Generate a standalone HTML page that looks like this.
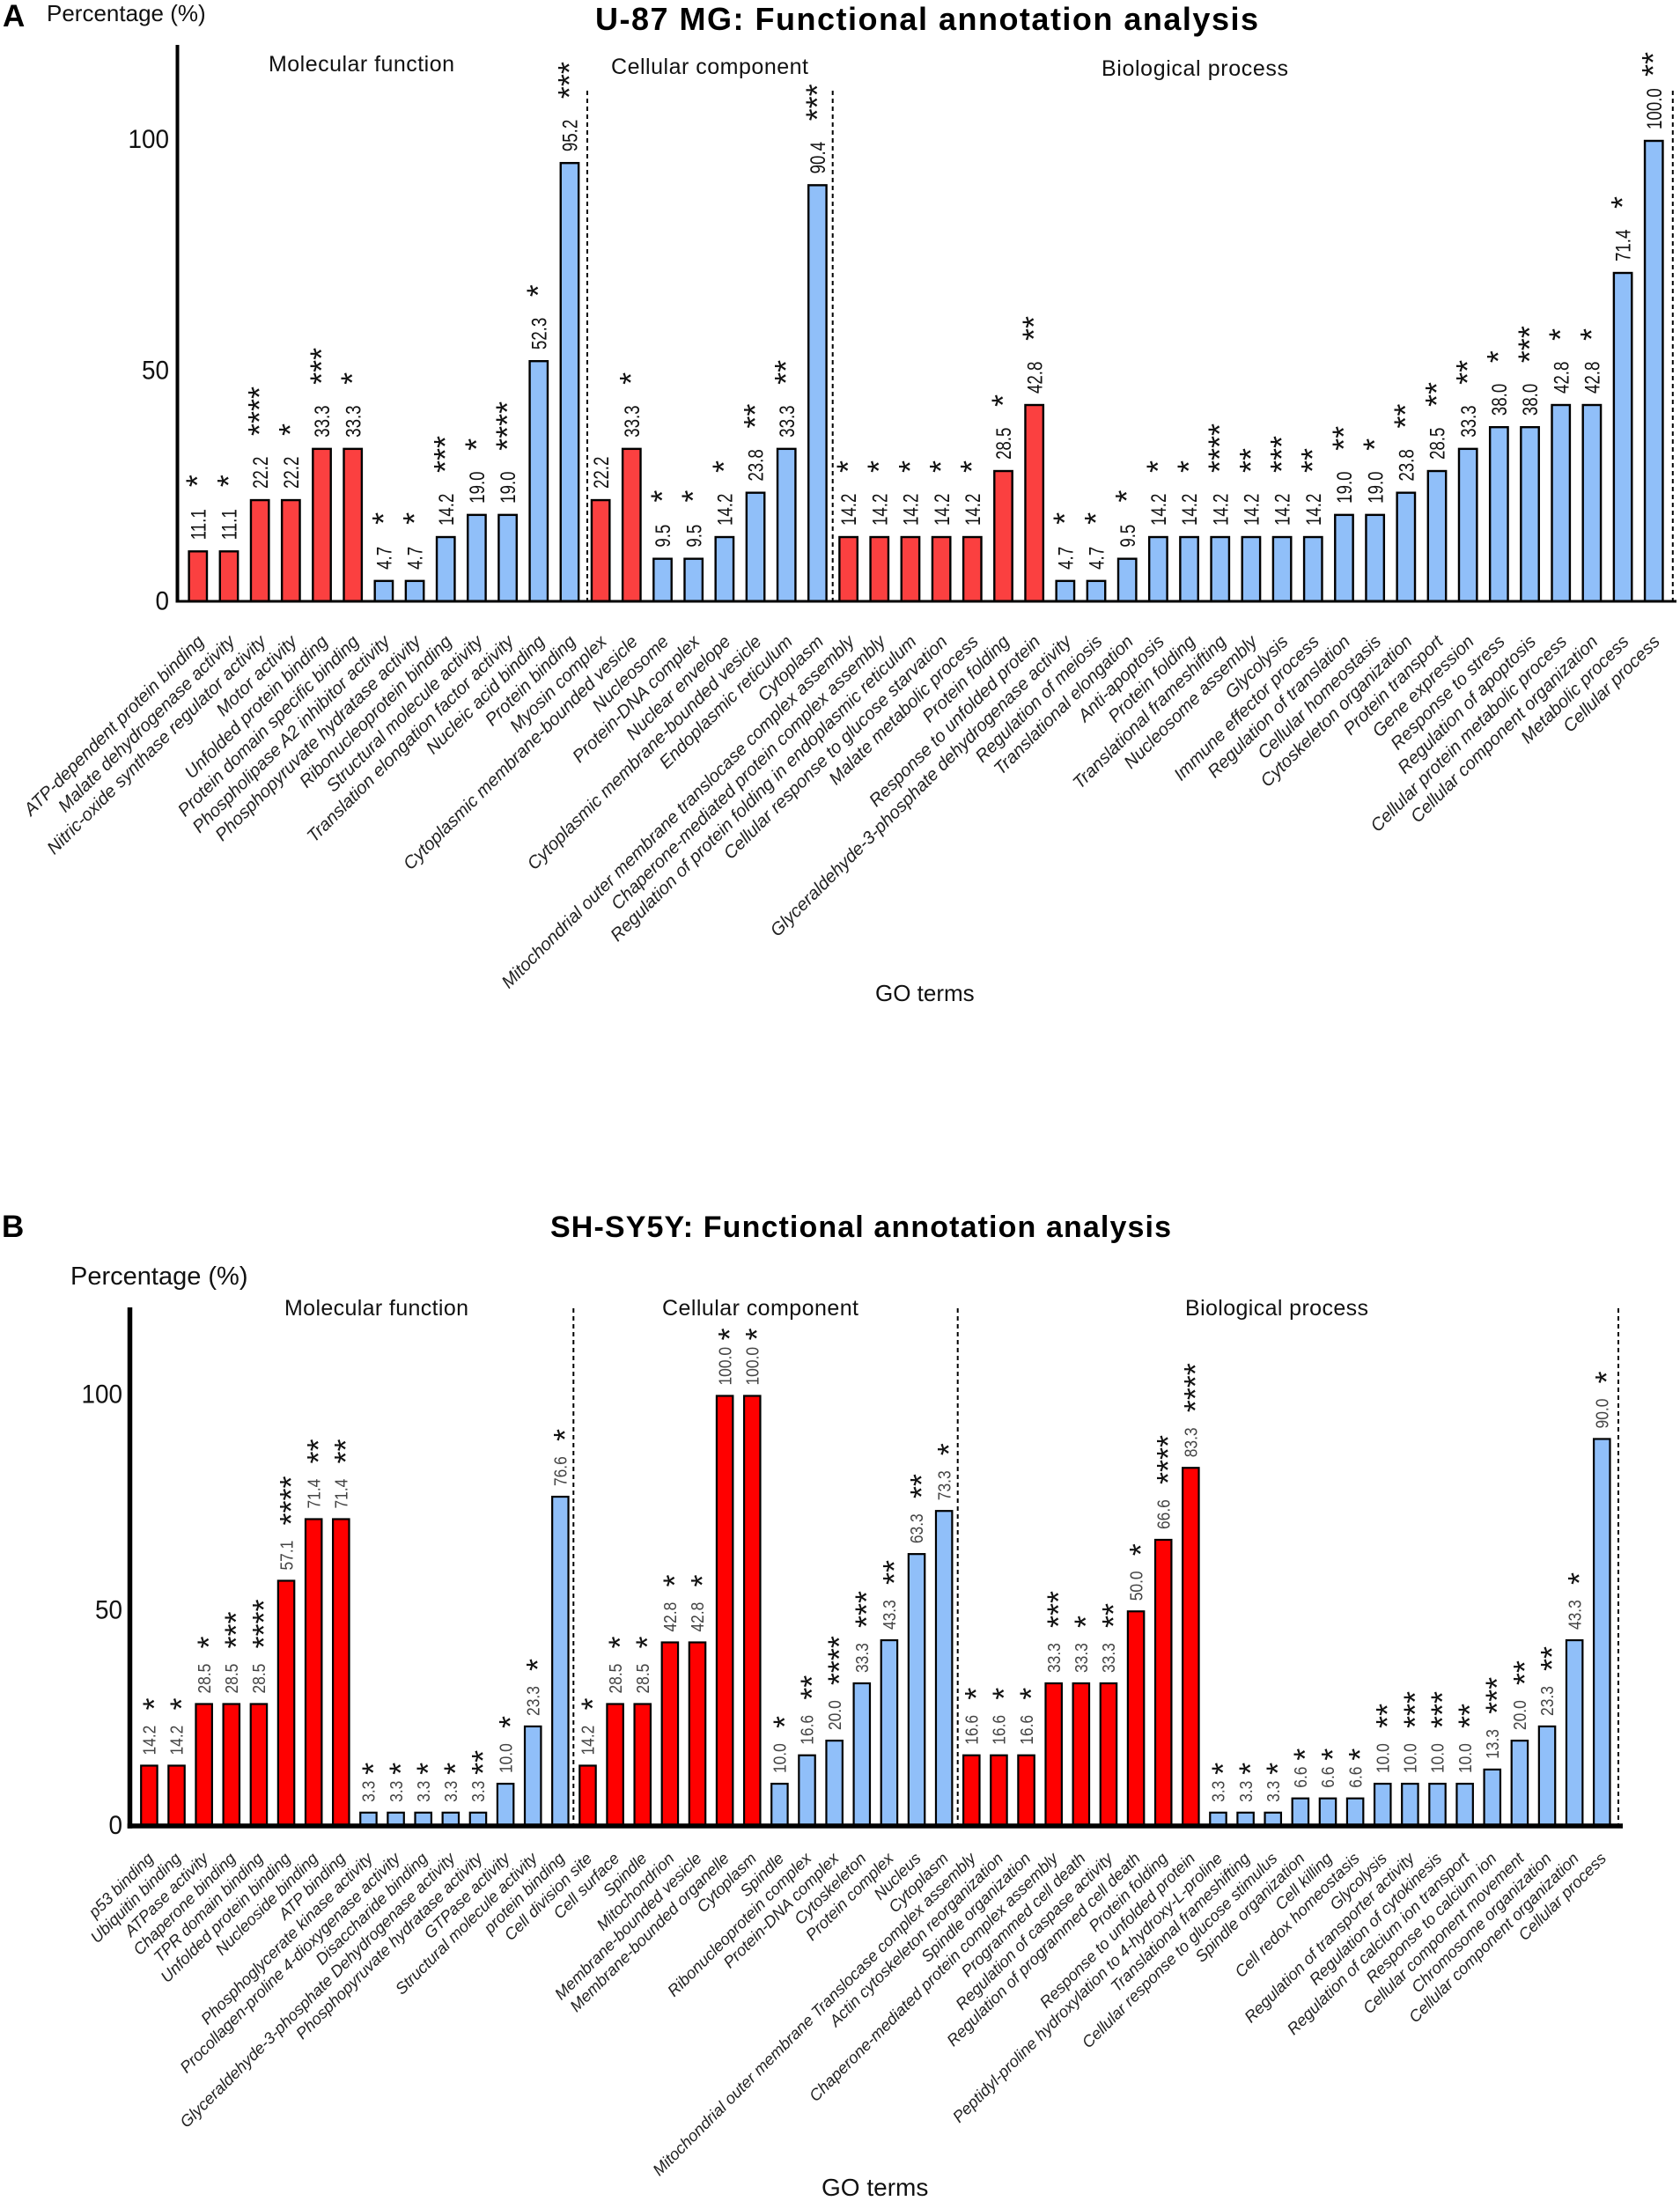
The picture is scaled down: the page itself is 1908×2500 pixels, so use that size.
<!DOCTYPE html>
<html lang="en">
<head>
<meta charset="utf-8">
<title>Functional annotation analysis</title>
<style>
html,body{margin:0;padding:0;background:#fff;}
svg{display:block;}
text{font-family:"Liberation Sans",Arial,sans-serif;fill:#111;}
</style>
</head>
<body>
<svg id="figure" xmlns="http://www.w3.org/2000/svg" width="1908" height="2500" viewBox="0 0 1908 2500">
  <rect width="1908" height="2500" fill="#fff"/>

  <g id="panel-a">
    <text x="3" y="30" font-size="35" font-weight="700" style="fill:#000">A</text>
    <text x="676" y="34" font-size="36" font-weight="700" textLength="753" style="fill:#000">U-87 MG: Functional annotation analysis</text>
    <text x="53" y="24" font-size="26">Percentage (%)</text>
    <text x="994" y="1137" font-size="26">GO terms</text>
    <text x="305" y="81" font-size="25" textLength="211">Molecular function</text>
    <text x="694" y="84" font-size="25" textLength="224">Cellular component</text>
    <text x="1251" y="86" font-size="25" textLength="212">Biological process</text>
  </g>

  <g id="panel-b">
    <text x="2" y="1405" font-size="35" font-weight="700" style="fill:#000">B</text>
    <text x="625" y="1405" font-size="34" font-weight="700" textLength="705" style="fill:#000">SH-SY5Y: Functional annotation analysis</text>
    <text x="80" y="1459" font-size="29">Percentage (%)</text>
    <text x="933" y="2494" font-size="28">GO terms</text>
    <text x="323" y="1494" font-size="25" textLength="209">Molecular function</text>
    <text x="752" y="1494" font-size="25" textLength="223">Cellular component</text>
    <text x="1346" y="1494" font-size="25" textLength="208">Biological process</text>
  </g>
</svg>

<script>
/* ---------- Panel A data (U-87 MG) ---------- */
const aCategories = [
  "ATP-dependent protein binding","Malate dehydrogenase activity","Nitric-oxide synthase regulator activity","Motor activity","Unfolded protein binding","Protein domain specific binding","Phospholipase A2 inhibitor activity","Phosphopyruvate hydratase activity","Ribonucleoprotein binding","Structural molecule activity","Translation elongation factor activity","Nucleic acid binding","Protein binding",
  "Myosin complex","Cytoplasmic membrane-bounded vesicle","Nucleosome","Protein-DNA complex","Nuclear envelope","Cytoplasmic membrane-bounded vesicle","Endoplasmic reticulum","Cytoplasm",
  "Mitochondrial outer membrane translocase complex assembly","Chaperone-mediated protein complex assembly","Regulation of protein folding in endoplasmic reticulum","Cellular response to glucose starvation","Malate metabolic process","Protein folding","Response to unfolded protein","Glyceraldehyde-3-phosphate dehydrogenase activity","Regulation of meiosis","Translational elongation","Anti-apoptosis","Protein folding","Translational frameshifting","Nucleosome assembly","Glycolysis","Immune effector process","Regulation of translation","Cellular homeostasis","Cytoskeleton organization","Protein transport","Gene expression","Response to stress","Regulation of apoptosis","Cellular protein metabolic process","Cellular component organization","Metabolic process","Cellular process"
];
const aValues = [
  11.1,11.1,22.2,22.2,33.3,33.3,4.7,4.7,14.2,19.0,19.0,52.3,95.2,
  22.2,33.3,9.5,9.5,14.2,23.8,33.3,90.4,
  14.2,14.2,14.2,14.2,14.2,28.5,42.8,4.7,4.7,9.5,14.2,14.2,14.2,14.2,14.2,14.2,19.0,19.0,23.8,28.5,33.3,38.0,38.0,42.8,42.8,71.4,100.0
];
const aStars = [
  1,1,4,1,3,1,1,1,3,1,4,1,3,
  0,1,1,1,1,2,2,3,
  1,1,1,1,1,1,2,1,1,1,1,1,4,2,3,2,2,1,2,2,2,1,3,1,1,1,2
];
const aGroups = [
  "r","r","r","r","r","r","b","b","b","b","b","b","b",
  "r","r","b","b","b","b","b","b",
  "r","r","r","r","r","r","r","b","b","b","b","b","b","b","b","b","b","b","b","b","b","b","b","b","b","b","b"
];
const aTicks = [0,50,100];

/* ---------- Panel B data (SH-SY5Y) ---------- */
const bCategories = [
  "p53 binding","Ubiquitin binding","ATPase activity","Chaperone binding","TPR domain binding","Unfolded protein binding","Nucleoside binding","ATP binding","Phosphoglycerate kinase activity","Procollagen-proline 4-dioxygenase activity","Disaccharide binding","Glyceraldehyde-3-phosphate Dehydrogenase activity","Phosphopyruvate hydratase activity","GTPase activity","Structural molecule activity","protein binding",
  "Cell division site","Cell surface","Spindle","Mitochondrion","Membrane-bounded vesicle","Membrane-bounded organelle","Cytoplasm","Spindle","Ribonucleoprotein complex","Protein-DNA complex","Cytoskeleton","Protein complex","Nucleus","Cytoplasm",
  "Mitochondrial outer membrane Translocase complex assembly","Actin cytoskeleton reorganization","Spindle organization","Chaperone-mediated protein complex assembly","Programmed cell death","Regulation of caspase activity","Regulation of programmed cell death","Protein folding","Response to unfolded protein","Peptidyl-proline hydroxylation to 4-hydroxy-L-proline","Translational frameshifting","Cellular response to glucose stimulus","Spindle organization","Cell killing","Cell redox homeostasis","Glycolysis","Regulation of transporter activity","Regulation of cytokinesis","Regulation of calcium ion transport","Response to calcium ion","Cellular component movement","Chromosome organization","Cellular component organization","Cellular process"
];
const bValues = [
  14.2,14.2,28.5,28.5,28.5,57.1,71.4,71.4,3.3,3.3,3.3,3.3,3.3,10.0,23.3,76.6,
  14.2,28.5,28.5,42.8,42.8,100.0,100.0,10.0,16.6,20.0,33.3,43.3,63.3,73.3,
  16.6,16.6,16.6,33.3,33.3,33.3,50.0,66.6,83.3,3.3,3.3,3.3,6.6,6.6,6.6,10.0,10.0,10.0,10.0,13.3,20.0,23.3,43.3,90.0
];
const bStars = [
  1,1,1,3,4,4,2,2,1,1,1,1,2,1,1,1,
  1,1,1,1,1,1,1,1,2,4,3,2,2,1,
  1,1,1,3,1,2,1,4,4,1,1,1,1,1,1,2,3,3,2,3,2,2,1,1
];
const bGroups = [
  "r","r","r","r","r","r","r","r","b","b","b","b","b","b","b","b",
  "r","r","r","r","r","r","r","b","b","b","b","b","b","b",
  "r","r","r","r","r","r","r","r","r","b","b","b","b","b","b","b","b","b","b","b","b","b","b","b"
];
const bTicks = [0,50,100];

const SVGNS = "http://www.w3.org/2000/svg";

function make(tag, parent, attrs, content) {
  const el = document.createElementNS(SVGNS, tag);
  for (const k in attrs) el.setAttribute(k, attrs[k]);
  if (content !== undefined) el.textContent = content;
  parent.appendChild(el);
  return el;
}

function drawPanel(root, prefix, cats, vals, stars, groups, ticks, L) {
  /* axis functions */
  const xScale = i => L.x0 + L.step * i;
  const yScale = v => L.zero - v * L.unit;

  /* separators */
  L.separators.forEach((sx, i) => {
    const sep = make("line", root, {x1: sx, x2: sx, y1: L.sepTop, y2: L.axisY, stroke: "#000", "stroke-width": 2, "stroke-dasharray": "5 4"});
    
    
  });

  /* bars, value labels, stars, category labels */
  vals.forEach((v, i) => {
    const left = xScale(i);
    const cx = left + L.barW / 2;
    const top = yScale(v);

    const bar = make("rect", root, {x: left + L.sw / 2, y: top, width: L.barW - L.sw, height: Math.max(0, L.axisY - top), fill: groups[i] === "r" ? L.red : L.blue, stroke: "#000", "stroke-width": L.sw});
    
    

    const label = v.toFixed(1);
    const lx = cx + 0.36 * L.valueFs;
    const ly = top - L.valueGap;
    const valueEl = make("text", root, {"font-size": L.valueFs, transform: "translate(" + lx + " " + ly + ") rotate(-90) scale(" + L.valueScale + " 1)", style: "fill:" + L.valueColor}, label);
    
    

    if (stars[i] > 0) {
      const sx = cx + L.starDx + 0.58 * L.starFs;
      const gap = label.length <= 3 ? L.starGapShort : L.starGapLong;
      const sy = top - gap;
      const starEl = make("text", root, {x: sx, y: sy, "font-size": L.starFs, transform: "rotate(-90 " + sx + " " + sy + ")", style: "fill:#111"}, "*".repeat(stars[i]));
      
      
    }

    const tx = cx + L.catDx;
    const ty = L.catY;
    const catEl = make("text", root, {x: tx, y: ty, "font-size": L.catFs, "font-style": "italic", "text-anchor": "end", transform: "rotate(-45 " + tx + " " + ty + ")", style: "fill:#222"}, cats[i]);
    
    
  });

  /* axes */
  const yAxis = make("line", root, {x1: L.axisX, x2: L.axisX, y1: L.axisTop, y2: L.axisY + L.axisH / 2, stroke: "#000", "stroke-width": L.axisW});
  
  

  const xAxis = make("line", root, {x1: L.axisX - L.axisW / 2, x2: L.axisEnd, y1: L.axisY, y2: L.axisY, stroke: "#000", "stroke-width": L.axisH});
  
  

  ticks.forEach(t => {
    const ty = yScale(t) + L.tickDy;
    const tick = make("text", root, {"font-size": 30, "text-anchor": "end", transform: "translate(" + L.tickX + " " + ty + ") scale(0.93 1)", style: "fill:#111"}, String(t));
    
    
  });
}

drawPanel(document.getElementById("panel-a"), "panel-a", aCategories, aValues, aStars, aGroups, aTicks, {
  x0: 213.4, step: 35.18, barW: 22.8, sw: 2.4, zero: 684.5, unit: 5.245,
  red: "#fb4040", blue: "#90bff9",
  valueFs: 24, valueScale: 0.78, valueGap: 13, valueColor: "#111",
  starFs: 36, starDx: -9, starGapShort: 64, starGapLong: 73,
  catFs: 20.3, catDx: 8, catY: 730,
  separators: [667, 945.7, 1899.8], sepTop: 103,
  axisX: 201.5, axisW: 4, axisTop: 51, axisY: 683, axisH: 3, axisEnd: 1904,
  tickX: 192, tickDy: 8
});

drawPanel(document.getElementById("panel-b"), "panel-b", bCategories, bValues, bStars, bGroups, bTicks, {
  x0: 159.1, step: 31.13, barW: 20.6, sw: 2.2, zero: 2075, unit: 4.895,
  red: "#ff0000", blue: "#90bff9",
  valueFs: 20, valueScale: 0.87, valueGap: 12, valueColor: "#444",
  starFs: 36, starDx: -3, starGapShort: 43, starGapLong: 63,
  catFs: 18.4, catDx: 6, catY: 2112,
  separators: [651.3, 1087.7, 1838], sepTop: 1486,
  axisX: 147.5, axisW: 5.5, axisTop: 1485, axisY: 2074, axisH: 5.5, axisEnd: 1843,
  tickX: 139, tickDy: 8
});
</script>
</body>
</html>
